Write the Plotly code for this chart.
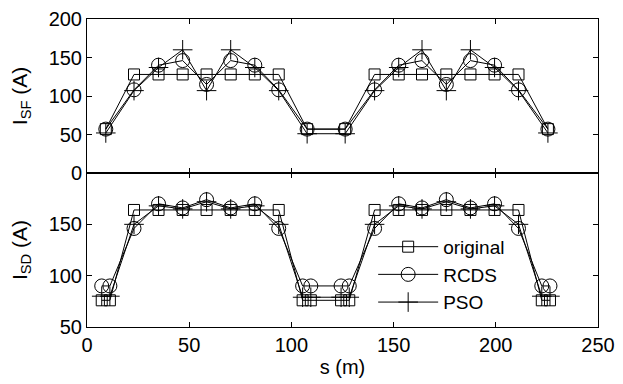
import plotly.graph_objects as go
from plotly.subplots import make_subplots

# SF magnets (top panel)
s_sf = [9.2, 23, 35, 46.8, 58.5, 70.3, 82.1, 93.8, 107.7,
        126.3, 140.7, 152.5, 163.9, 175.8, 187.6, 199.4, 211.1, 225.5]
sf_original = [57, 128, 128, 128, 128, 128, 128, 128, 57,
               57, 128, 128, 128, 128, 128, 128, 128, 57]
sf_rcds = [57, 108, 140, 146, 115, 146, 140, 108, 57,
           57, 108, 140, 146, 115, 146, 140, 108, 57]
sf_pso = [52, 107, 137, 160, 107, 160, 137, 107, 51,
          51, 107, 137, 160, 107, 160, 137, 107, 52]

# SD magnets (bottom panel)
s_sd = [7.2, 11.2, 23, 35, 46.8, 58.5, 70.3, 82.1, 93.8, 105.5, 109.5,
        124.3, 128.3, 140.7, 152.5, 163.9, 175.8, 187.6, 199.4, 211.1, 222.5, 226.5]
sd_original = [76, 76, 164, 164, 164, 164, 164, 164, 164, 76, 76,
               76, 76, 164, 164, 164, 164, 164, 164, 164, 76, 76]
sd_rcds = [90, 90, 146, 170, 166, 174, 166, 170, 146, 90, 90,
           90, 90, 146, 170, 166, 174, 166, 170, 146, 90, 90]
sd_pso = [80, 80, 150, 168, 165, 172, 165, 168, 150, 79, 79,
          79, 79, 150, 168, 165, 172, 165, 168, 150, 80, 80]

series = [
    ("original", sf_original, sd_original, "square-open", 11),
    ("RCDS", sf_rcds, sd_rcds, "circle-open", 14),
    ("PSO", sf_pso, sd_pso, "cross-thin-open", 14),
]

fig = make_subplots(rows=2, cols=1, shared_xaxes=True, vertical_spacing=0)

for name, top, bottom, sym, size in series:
    mk = dict(symbol=sym, size=size, color="black", line=dict(color="black", width=1))
    fig.add_trace(go.Scatter(x=s_sf, y=top, mode="lines+markers", name=name,
                             line=dict(color="black", width=1), marker=mk,
                             showlegend=False), row=1, col=1)
    fig.add_trace(go.Scatter(x=s_sd, y=bottom, mode="lines+markers", name=name,
                             line=dict(color="black", width=1), marker=mk),
                  row=2, col=1)

axis_style = dict(showline=True, linecolor="black", linewidth=1, mirror="allticks",
                  ticks="inside", ticklen=5, tickcolor="black", showgrid=False,
                  zeroline=False, automargin=False,
                  tickfont=dict(size=20, color="black"))

fig.update_xaxes(range=[0, 250], tickvals=[0, 50, 100, 150, 200, 250], **axis_style)
fig.update_xaxes(showticklabels=False, row=1, col=1)
fig.update_xaxes(title=dict(text="s (m)", font=dict(size=20, color="black"), standoff=4),
                 row=2, col=1)
fig.update_yaxes(**axis_style)
fig.update_yaxes(range=[0, 200], tickvals=[0, 50, 100, 150, 200],
                 title=dict(text="I<sub>SF</sub> (A)", font=dict(size=21, color="black"), standoff=18),
                 row=1, col=1)
fig.update_yaxes(range=[50, 200], tickvals=[50, 100, 150],
                 title=dict(text="I<sub>SD</sub> (A)", font=dict(size=21, color="black"), standoff=18),
                 row=2, col=1)

# the page body adds an 8px offset, so the figure is a little smaller than the window
fig.update_layout(
    width=615, height=376,
    margin=dict(l=79, r=25, t=11, b=57),
    plot_bgcolor="white", paper_bgcolor="white",
    font=dict(family="Liberation Sans, Arial, sans-serif", color="black"),
    legend=dict(x=0.56, y=0.322, xanchor="left", yanchor="top",
                bgcolor="rgba(0,0,0,0)", font=dict(size=19), itemwidth=60,
                tracegroupgap=0),
)

fig.write_html("out.html")
